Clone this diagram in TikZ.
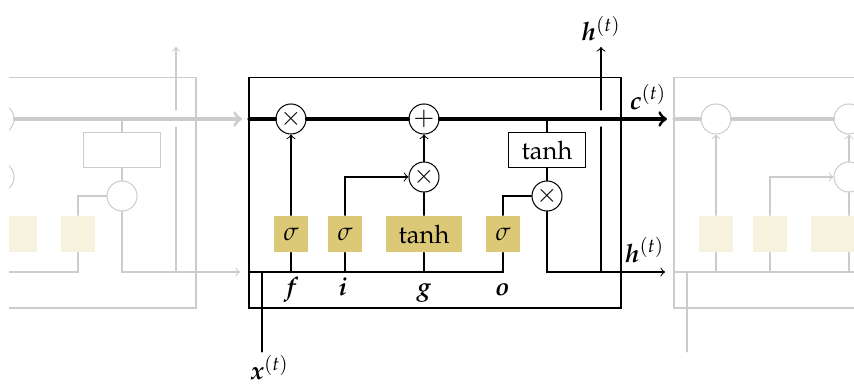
\documentclass[tikz,border=0pt]{standalone}
\usepackage{amsmath,amssymb}
\usepackage{mathpazo}
\usepackage{bm}
\usepackage{tikz}
\usetikzlibrary{arrows.meta}
\usepackage{xcolor}
\definecolor{gatecol}{RGB}{219,201,120}

\tikzset{
  gate/.style={fill=gatecol,minimum width=0.48cm,minimum height=0.5cm,inner sep=0pt},
  widegate/.style={gate,minimum width=1.05cm},
  op/.style={circle,draw,fill=white,minimum size=0.414cm,inner sep=0pt},
  actbox/.style={draw,fill=white,minimum width=1.05cm,minimum height=0.48cm,inner sep=0pt},
  state/.style={line width=1.2pt},
  outlabel/.style={above left,inner sep=0pt,yshift=3.5pt},
}

\begin{document}
\begin{tikzpicture}[x=0.0138cm,y=-0.0138cm,>=to,line cap=round]
\useasboundingbox (0,0) rectangle (854,392);
% neighbouring cells, greyed out
\begin{scope}
\clip (9,0) rectangle (854,392);
\foreach \sx in {-425,425} {
  \begin{scope}[shift={(\sx,0)},black!20]
    \draw (249,78) rectangle (621,308);
    \coordinate (gcin) at (249,119);
    \coordinate (gxin) at (249,272);
    \coordinate (gct) at (547,119);
    \coordinate (gcout) at (667,119);
    \coordinate (ghout) at (665,272);
    \coordinate (ghb) at (601,272);
    \coordinate (ggaplo) at (601,127);
    \coordinate (ggaphi) at (601,110);
    \coordinate (ghup) at (601,47);
    \coordinate (gxt) at (262,352);
    \node[op] (gmf) at (291,119) {};
    \node[op] (gadd) at (424,119) {};
    \node[op] (gmi) at (424,177) {};
    \node[op] (gmo) at (547,196) {};
    \node[actbox] (gtc) at (547,150) {};
    \node[gate,fill=gatecol!25] (gsf) at (291,234) {};
    \node[gate,fill=gatecol!25] (gsi) at (345,234) {};
    \node[widegate,fill=gatecol!25] (gsg) at (424,234) {};
    \node[gate,fill=gatecol!25] (gso) at (503,234) {};
    \draw[state] (gcin) -- (gmf) -- (gadd);
    \draw[state,->] (gadd) -- (gcout);
    \draw[->] (gsf) -- (gmf);
    \draw[->] (gsi) |- (gmi);
    \draw (gsg) -- (gmi);
    \draw[->] (gmi) -- (gadd);
    \draw (gso) |- (gmo);
    \draw (gct) -- (gtc);
    \draw (gtc) -- (gmo);
    \draw[->] (gmo) |- (ghout);
    \draw (ghb) -- (ggaplo);
    \draw[->] (ggaphi) -- (ghup);
    \draw (gxin) -| (gso);
    \draw (gsf) -- (gsf |- gxin);
    \draw (gsi) -- (gsi |- gxin);
    \draw (gsg) -- (gsg |- gxin);
    \draw (gxt) -- (gxt |- gxin);
  \end{scope}
}
\end{scope}

% the cell itself
\draw (249,78) rectangle (621,308);
\coordinate (cin) at (249,119);
\coordinate (xin) at (249,272);
\coordinate (ct) at (547,119);
\coordinate (cout) at (667,119);
\coordinate (hout) at (665,272);
\coordinate (hb) at (601,272);
\coordinate (gaplo) at (601,127);
\coordinate (gaphi) at (601,110);
\coordinate (hup) at (601,47);
\coordinate (xt) at (262,352);

\node[op] (mulf) at (291,119) {$\times$};
\node[op] (add) at (424,119) {$+$};
\node[op] (muli) at (424,177) {$\times$};
\node[op] (mulo) at (547,196) {$\times$};
\node[actbox] (tc) at (547,150) {$\tanh$};
\node[gate] (sf) at (291,234) {$\sigma$};
\node[gate] (si) at (345,234) {$\sigma$};
\node[widegate] (sg) at (424,234) {$\tanh$};
\node[gate] (so) at (503,234) {$\sigma$};

\draw[state] (cin) -- (mulf) -- (add);
\draw[state,->] (add) -- (cout);
\draw[->] (sf) -- (mulf);
\draw[->] (si) |- (muli);
\draw (sg) -- (muli);
\draw[->] (muli) -- (add);
\draw (so) |- (mulo);
\draw (ct) -- (tc);
\draw (tc) -- (mulo);
\draw[->] (mulo) |- (hout);
\draw (hb) -- (gaplo);
\draw[->] (gaphi) -- (hup);
\draw (xin) -| (so);
\draw (sf) -- (sf |- xin);
\draw (si) -- (si |- xin);
\draw (sg) -- (sg |- xin);
\draw (xt) -- (xt |- xin);

% labels
\node[outlabel] (lc) at (cout) {$\bm{c}^{(t)}$};
\node[outlabel] (lh) at (hout) {$\bm{h}^{(t)}$};
\node[above,inner sep=2pt] (lhup) at (hup) {$\bm{h}^{(t)}$};
\node[below,inner sep=1pt,xshift=3pt] (lx) at (xt) {$\bm{x}^{(t)}$};
\node[anchor=base] (lf) at (291,296) {$\bm{f}$};
\node[anchor=base] (li) at (343,296) {$\bm{i}$};
\node[anchor=base] (lg) at (424,296) {$\bm{g}$};
\node[anchor=base] (lo) at (502,296) {$\bm{o}$};
\end{tikzpicture}
\end{document}
